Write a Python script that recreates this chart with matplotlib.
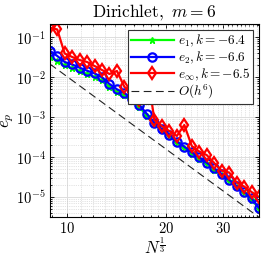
import numpy as np
import matplotlib
matplotlib.use('Agg')
import matplotlib.pyplot as plt
from matplotlib.ticker import FixedLocator, FuncFormatter, LogLocator, NullFormatter

plt.rcParams['mathtext.fontset'] = 'cm'
plt.rcParams['font.family'] = ['DejaVu Serif']

# N^(1/3) values
n13 = [8.83, 9.31, 9.81, 10.34, 10.90, 11.49, 12.12, 12.77, 13.46, 14.19,
       14.96, 15.77, 16.63, 17.53, 18.48, 19.48, 20.53, 21.65, 22.82, 24.06,
       25.36, 26.73, 28.18, 29.71, 31.32, 33.02, 34.81, 36.69, 38.68]

# e_1 (green)
e1 = [0.0326, 0.0254, 0.0196, 0.0167, 0.0143, 0.0120, 0.0101, 0.00824, 0.00582, 0.00424,
      0.00347, 0.00245, 0.00178, 0.00106, 6.5e-4, 4.65e-4, 3.4e-4, 2.27e-4, 1.68e-4, 1.2e-4,
      9.1e-5, 6.65e-5, 4.8e-5, 3.47e-5, 2.45e-5, 1.74e-5, 1.24e-5, 8.5e-6, 5.0e-6]
# e_2 (blue)
e2 = [0.0461, 0.0340, 0.0240, 0.0208, 0.0173, 0.0145, 0.0124, 0.00991, 0.00673, 0.00496,
      0.00400, 0.00278, 0.00200, 0.00119, 7.06e-4, 5.0e-4, 3.64e-4, 2.43e-4, 1.80e-4, 1.29e-4,
      9.75e-5, 7.13e-5, 5.16e-5, 3.72e-5, 2.63e-5, 1.86e-5, 1.33e-5, 9.1e-6, 5.2e-6]
# e_inf (red)
einf = [0.176, 0.157, 0.0392, 0.0321, 0.0269, 0.0240, 0.0190, 0.0151, 0.0120, 0.0143,
        0.00566, 0.00424, 0.00267, 0.0156, 8.4e-4, 5.9e-4, 4.45e-4, 3.34e-4, 6.3e-4, 1.87e-4,
        1.36e-4, 1.11e-4, 7.0e-5, 4.5e-5, 4.05e-5, 2.27e-5, 1.80e-5, 1.31e-5, 9.8e-6]

labels = [r'$e_1, k = -6.4$', r'$e_2, k = -6.6$', r'$e_\infty, k = -6.5$', r'$O(h^6)$']
ref_start = 0.0215  # O(h^6) line value at first point

x = np.array(n13)
ref = ref_start * (x / x[0]) ** -6

fig = plt.figure(figsize=(2.66, 2.57), dpi=100)
ax = fig.add_axes([0.187, 0.1545, 0.787, 0.752])

ax.loglog(x, e1, '-*', color='#00ff00', lw=1.6, ms=4.5, label=labels[0])
ax.loglog(x, e2, '-o', color='#0000ff', lw=1.6, ms=6, mfc='none', mew=1.6, label=labels[1])
ax.loglog(x, einf, '-d', color='#ff0000', lw=1.6, ms=6, mfc='none', mew=1.6, label=labels[2])
ax.loglog(x, ref, '--', color='#222222', lw=0.8, dashes=(7, 4), label=labels[3])

ax.set_xlim(x[0], x[-1])
ax.set_ylim(3.05e-6, 0.215)

ax.xaxis.set_major_locator(FixedLocator([10, 20, 30]))
ax.xaxis.set_major_formatter(FuncFormatter(lambda v, p: r'$%d$' % v))
ax.xaxis.set_minor_locator(FixedLocator([9, 11, 12, 13, 14, 15, 16, 17, 18, 19, 21, 22, 23, 24, 25,
                                         26, 27, 28, 29, 31, 32, 33, 34, 35, 36, 37, 38]))
ax.xaxis.set_minor_formatter(NullFormatter())
ax.yaxis.set_major_locator(FixedLocator([1e-5, 1e-4, 1e-3, 1e-2, 1e-1]))
ax.yaxis.set_major_formatter(FuncFormatter(lambda v, p: r'$10^{%d}$' % round(np.log10(v))))
ax.yaxis.set_minor_locator(LogLocator(base=10, subs=np.arange(2, 10), numticks=20))
ax.yaxis.set_minor_formatter(NullFormatter())

ax.grid(True, which='major', color='#dddddd', lw=0.7)
ax.grid(True, which='minor', color='#c8c8c8', lw=0.5, ls=':')
ax.set_axisbelow(True)
ax.tick_params(which='both', direction='in', top=True, right=True, labelsize=10.5, width=0.6)
ax.tick_params(which='major', length=3, pad=3)
ax.tick_params(which='minor', length=1.5)
for s in ax.spines.values():
    s.set_linewidth(0.8)

ax.set_title(r'$\mathrm{Dirichlet},\ m = 6$', fontsize=12.5, pad=5)
ax.set_xlabel(r'$N^{\frac{1}{3}}$', fontsize=12)
ax.xaxis.set_label_coords(0.5, -0.105)
ax.set_ylabel(r'$e_p$', fontsize=12)
ax.yaxis.set_label_coords(-0.16, 0.5)

leg = ax.legend(loc='upper right', fontsize=9.5, frameon=True, fancybox=False, framealpha=1,
                edgecolor='#333333', borderpad=0.2, labelspacing=0.05, handlelength=3.3,
                handletextpad=0.3, borderaxespad=0.45)
leg.get_frame().set_linewidth(0.8)

fig.savefig('out.png', dpi=100)
